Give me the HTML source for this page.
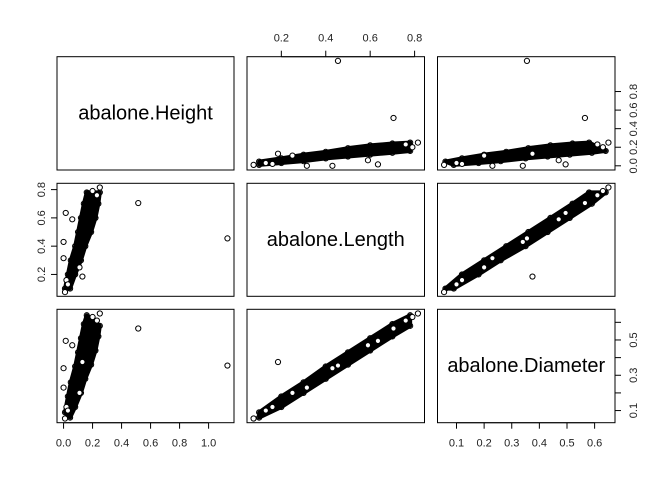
<!DOCTYPE html>
<html><head><meta charset="utf-8"><style>
body{margin:0;background:#fff}
svg text{font-family:"Liberation Sans",Arial,sans-serif}
</style></head><body>
<svg id="c" width="672" height="480" xmlns="http://www.w3.org/2000/svg"></svg>
<script>
// Data: cloud envelope by length bin, plus individual points
const lengthBins = [0.10,0.20,0.30,0.40,0.50,0.60,0.70,0.78];
const diamLo     = [0.06,0.12,0.20,0.28,0.36,0.44,0.52,0.58];
const diamHi     = [0.09,0.18,0.26,0.35,0.43,0.51,0.59,0.64];
const heightLo   = [0.01,0.03,0.05,0.08,0.10,0.12,0.14,0.16];
const heightHi   = [0.045,0.08,0.12,0.15,0.19,0.22,0.24,0.25];
const ptLength   = [0.075,0.815,0.455,0.705,0.185,0.635,0.430,0.315,0.160,0.130,0.760,0.790,0.250,0.590];
const ptDiameter = [0.055,0.650,0.355,0.565,0.375,0.495,0.340,0.230,0.120,0.100,0.610,0.630,0.200,0.470];
const ptHeight   = [0.010,0.250,1.130,0.515,0.130,0.015,0.000,0.000,0.020,0.030,0.230,0.200,0.110,0.060];
const lengthTicks = [0.2,0.4,0.6,0.8];
const heightTicks = [0.0,0.2,0.4,0.6,0.8];
const heightBottomTicks = [0.0,0.2,0.4,0.6,0.8,1.0];
const diamTicks = [0.1,0.2,0.3,0.4,0.5,0.6];
const diamRightLabels = [0.1,0.3,0.5];

const NS="http://www.w3.org/2000/svg", svg=document.getElementById('c');
function mk(tag,at,name,parent){const e=document.createElementNS(NS,tag);for(const k in at)e.setAttribute(k,at[k]);


(parent||svg).appendChild(e);return e;}
const colsX=[[57,234],[247,424.5],[437.5,615]], rowsY=[[56.7,170],[183.3,296.3],[309.3,422.7]];
const ranges={H:[0,1.13],L:[0.075,0.815],D:[0.055,0.65]};
function lim(v){const r=ranges[v],p=(r[1]-r[0])*0.04;return [r[0]-p,r[1]+p];}
function sx(v,c,val){const l=lim(v),[a,b]=colsX[c];return a+(val-l[0])/(l[1]-l[0])*(b-a);}
function sy(v,r,val){const l=lim(v),[a,b]=rowsY[r];return b-(val-l[0])/(l[1]-l[0])*(b-a);}
const vars=['H','L','D'], labels={H:'abalone.Height',L:'abalone.Length',D:'abalone.Diameter'};
function getv(v,i,lohi){ if(v==='L')return lengthBins[i]; if(v==='D')return (lohi?diamHi:diamLo)[i]; return (lohi?heightHi:heightLo)[i]; }
function ptv(v,i){return v==='L'?ptLength[i]:v==='D'?ptDiameter[i]:ptHeight[i];}
for(let r=0;r<3;r++)for(let c=0;c<3;c++){
  const [x0,x1]=colsX[c],[y0,y1]=rowsY[r];
  const g=mk('g',{},'panel-'+r+'-'+c);
  if(r===c){
    const t=mk('text',{x:(x0+x1)/2,y:(y0+y1)/2+6,'font-size':20,'text-anchor':'middle'},'diagonal-label-'+vars[r],g);t.textContent=labels[vars[r]];
  } else {
    const vx=vars[c],vy=vars[r];
    const n=lengthBins.length;
    const ordLo=[],ordHi=[];
    for(let i=0;i<n;i++){
      const loX=getv(vx,i,vx==='L'?0:(vy==='L'?1:0)), loY=getv(vy,i,vy==='L'?0:(vx==='L'?0:1));
      const hiX=getv(vx,i,vx==='L'?0:(vy==='L'?0:1)), hiY=getv(vy,i,vy==='L'?0:(vx==='L'?1:0));
      ordLo.push([sx(vx,c,loX),sy(vy,r,loY)]);ordHi.push([sx(vx,c,hiX),sy(vy,r,hiY)]);
    }
    const poly=ordLo.concat(ordHi.slice().reverse()).map(p=>p.join(',')).join(' ');
    mk('polygon',{points:poly,fill:'#000',stroke:'#000','stroke-width':4,'stroke-linejoin':'round'},'point-cloud',g);
    ordLo.concat(ordHi).forEach(p=>mk('circle',{cx:p[0],cy:p[1],r:2.6,fill:'none',stroke:'#000','stroke-width':1},'point',g));
    for(let i=0;i<ptLength.length;i++)
      mk('circle',{cx:sx(vx,c,ptv(vx,i)),cy:sy(vy,r,ptv(vy,i)),r:2.6,fill:'#fff',stroke:'#000','stroke-width':1},'point',g);
  }
  mk('rect',{x:x0,y:y0,width:x1-x0,height:y1-y0,fill:'none',stroke:'#000','stroke-width':1},'panel-border',g);
}
function axis(side,ticks,labs,scale,pos,name){
  const g=mk('g',{},name);const ps=ticks.map(scale);
  const a=Math.min(...ps),b=Math.max(...ps);
  if(side==='top'||side==='bottom'){
    mk('line',{x1:a,x2:b,y1:pos,y2:pos,stroke:'#000'},'axis-line',g);
    const d=side==='top'?-6:6;
    ticks.forEach((t,i)=>{mk('line',{x1:ps[i],x2:ps[i],y1:pos,y2:pos+d,stroke:'#000'},'tick',g);
      if(labs.includes(t)){const tx=mk('text',{x:ps[i],y:side==='top'?pos-15:pos+24,'font-size':11,'text-anchor':'middle',fill:'#222'},'tick-label',g);tx.textContent=t.toFixed(1);}});
  } else {
    mk('line',{x1:pos,x2:pos,y1:a,y2:b,stroke:'#000'},'axis-line',g);
    const d=side==='left'?-6:6;
    ticks.forEach((t,i)=>{mk('line',{y1:ps[i],y2:ps[i],x1:pos,x2:pos+d,stroke:'#000'},'tick',g);
      if(labs.includes(t)){const lx=side==='left'?pos-15:pos+19;const tx=mk('text',{x:lx,y:ps[i],'font-size':11,'text-anchor':'middle','dominant-baseline':'central',fill:'#222',transform:`rotate(-90 ${lx} ${ps[i]})`},'tick-label',g);tx.textContent=t.toFixed(1);}});
  }
}
axis('top',lengthTicks,lengthTicks,v=>sx('L',1,v),rowsY[0][0],'x-axis-top-length');
axis('right',heightTicks,heightTicks,v=>sy('H',0,v),colsX[2][1],'y-axis-right-height');
axis('left',lengthTicks,lengthTicks,v=>sy('L',1,v),colsX[0][0],'y-axis-left-length');
axis('right',diamTicks,diamRightLabels,v=>sy('D',2,v),colsX[2][1],'y-axis-right-diameter');
axis('bottom',heightBottomTicks,heightBottomTicks,v=>sx('H',0,v),rowsY[2][1],'x-axis-bottom-height');
axis('bottom',diamTicks,diamTicks,v=>sx('D',2,v),rowsY[2][1],'x-axis-bottom-diameter');
</script>
</body></html>
